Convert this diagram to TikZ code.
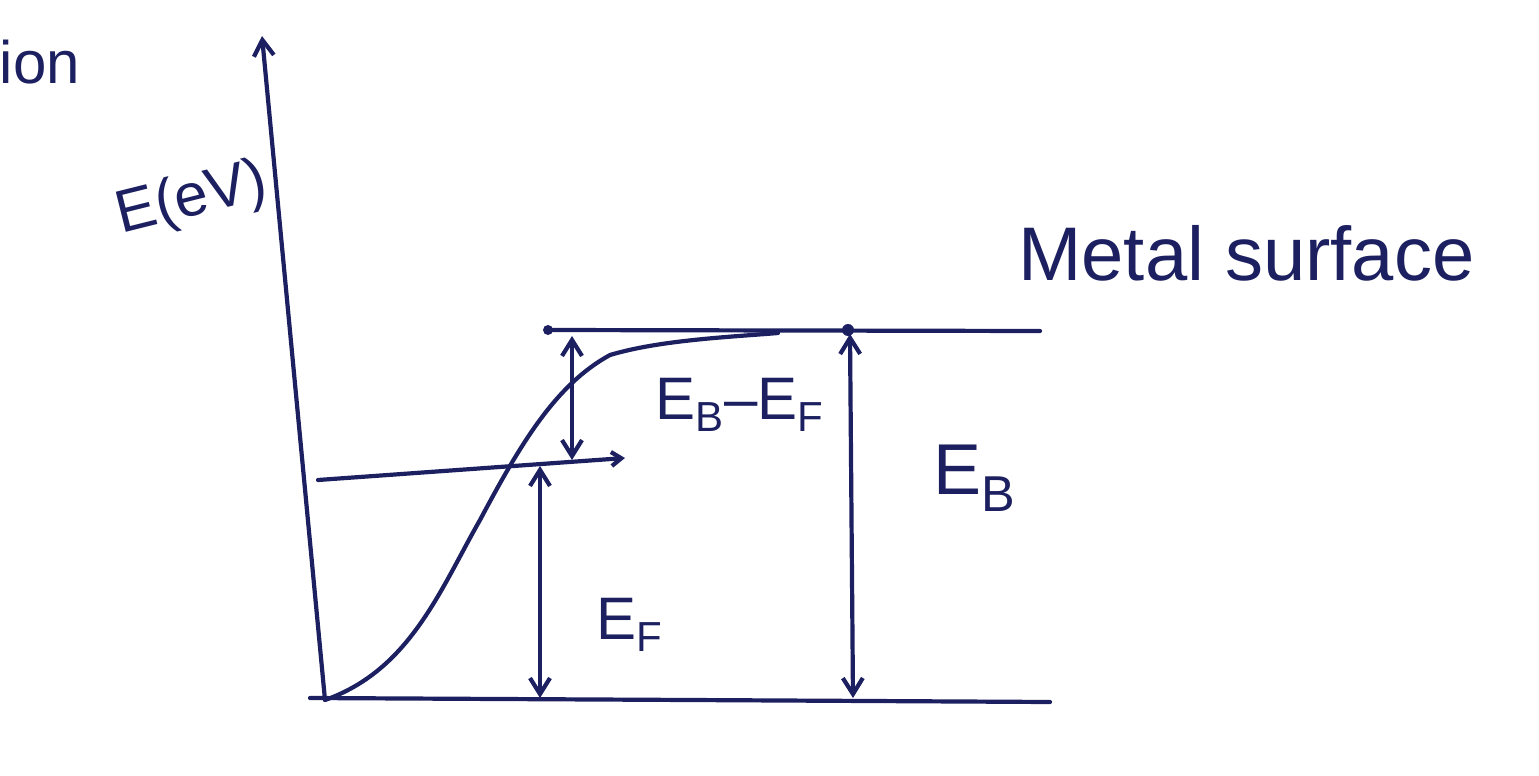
\documentclass[tikz,border=0pt]{standalone}
\usepackage{fontspec}
\setmainfont{Liberation Sans}
\usetikzlibrary{arrows.meta}
\definecolor{ink}{RGB}{28,32,96}
\begin{document}
\begin{tikzpicture}[x=0.5pt,y=-0.5pt,
  line/.style={draw=ink,line width=2.1pt,line cap=round},
  arr/.style={line,-{Straight Barb[length=8pt,width=10pt]}},
  darr/.style={line,{Straight Barb[length=8pt,width=10pt]}-{Straight Barb[length=8pt,width=10pt]}},
  lab/.style={text=ink,inner sep=0pt}]
\useasboundingbox (0,0) rectangle (1539,776);
% coordinates
\coordinate (o) at (325,700);
\coordinate (ytop) at (262,36);
\coordinate (b1) at (310,698);
\coordinate (b2) at (1050,702);
\coordinate (f1) at (318,480);
\coordinate (f2) at (625,458);
\coordinate (t1) at (548,330);
\coordinate (t2) at (1040,331);
\coordinate (g1) at (572,460);
\coordinate (g2) at (572,336);
\coordinate (e1) at (540,698);
\coordinate (e2) at (540,466);
\coordinate (k1) at (850,334);
\coordinate (k2) at (853,698);
% axes and levels
\draw[arr] (o) -- (ytop);
\draw[line] (b1) -- (690,700) -- (b2);
\draw[line,-{Straight Barb[length=5pt,width=7pt]}] (f1) -- (f2);
\draw[line] (t1) -- (t2);
\fill[ink] (t1) circle (5);
\fill[ink] (848,330) circle (6);
% curve
\draw[line] (o) .. controls (410,670) and (440,590) .. (480,520)
  .. controls (520,445) and (555,385) .. (610,355)
  .. controls (660,340) and (730,337) .. (778,333);
% arrows
\draw[darr] (g1) -- (g2);
\draw[darr] (e1) -- (e2);
\draw[darr] (k1) -- (k2);
% labels
\node[lab,font=\fontsize{30}{30}\selectfont] (ion) at (40,62) {ion};
\node[lab,font=\fontsize{30}{30}\selectfont,rotate=14] (ylab) at (192,200) {E(eV)};
\node[lab,font=\fontsize{38}{38}\selectfont,anchor=west] (ms) at (1018,253) {Metal surface};
\node[lab,font=\fontsize{30}{30}\selectfont] (egf) at (740,405) {E\textsubscript{B}–E\textsubscript{F}};
\node[lab,font=\fontsize{36}{36}\selectfont] (eb) at (975,478) {E\textsubscript{B}};
\node[lab,font=\fontsize{30}{30}\selectfont] (ef) at (630,625) {E\textsubscript{F}};
\end{tikzpicture}
\end{document}
